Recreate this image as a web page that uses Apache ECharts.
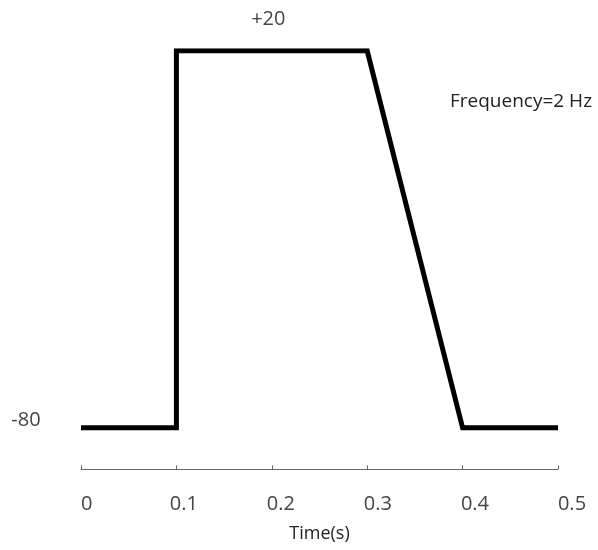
<!DOCTYPE html>
<html>
<head>
<meta charset="utf-8">
<script src="https://cdn.jsdelivr.net/npm/echarts@6/dist/echarts.min.js"></script>
<style>
  html, body { margin: 0; padding: 0; background: #fff; }
  #chart { width: 598px; height: 550px; }
</style>
</head>
<body>
<div id="chart"></div>
<script>
// Waveform breakpoints: time (s) and level
const times = [0, 0.1, 0.1, 0.3, 0.4, 0.5];
const levels = [-80, -80, 20, 20, -80, -80];
const xTicks = [0, 0.1, 0.2, 0.3, 0.4, 0.5];
const highLevel = 20;
const lowLevel = -80;
const frequencyHz = 2;

const chart = echarts.init(document.getElementById('chart'), null, { renderer: 'canvas' });

const fontFamily = '"Open Sans", "Liberation Sans", sans-serif';
const tickLabel = v => {
  const r = Math.round(v * 10) / 10;
  return xTicks.includes(r) ? String(r) : '';
};

chart.setOption({
  animation: false,
  grid: [
    // plotting area
    { left: 81, right: 40, top: 50.8, bottom: 80.7 },
    // slightly wider band that carries the tick labels
    { left: 86.7, right: 26, top: 50.8, bottom: 80.7 }
  ],
  xAxis: [{
    type: 'value',
    gridIndex: 0,
    min: 0,
    max: 0.5,
    interval: 0.1,
    name: 'Time(s)',
    nameLocation: 'middle',
    nameGap: 56,
    nameTextStyle: { color: '#222', fontSize: 18, fontFamily },
    axisLine: { show: true, onZero: false, lineStyle: { color: '#666', width: 1 } },
    axisTick: { show: true, inside: true, length: 4, lineStyle: { color: '#666' } },
    axisLabel: { show: false },
    splitLine: { show: false }
  }, {
    type: 'value',
    gridIndex: 1,
    min: 0,
    max: 0.5,
    interval: 0.1,
    axisLine: { show: false, onZero: false },
    axisTick: { show: false },
    axisLabel: { color: '#444', fontSize: 20, fontFamily, margin: 25, formatter: tickLabel },
    splitLine: { show: false }
  }],
  yAxis: [
    { type: 'value', gridIndex: 0, min: -91, max: 20, show: false },
    { type: 'value', gridIndex: 1, min: -91, max: 20, show: false }
  ],
  series: [{
    type: 'line',
    xAxisIndex: 0,
    yAxisIndex: 0,
    data: times.map((t, i) => [t, levels[i]]),
    symbol: 'none',
    lineStyle: { color: '#000', width: 5, join: 'miter' },
    markPoint: {
      symbol: 'circle',
      symbolSize: 0,
      label: { show: true, color: '#444', fontSize: 20, fontFamily },
      data: [
        { coord: [0.2, highLevel], label: { formatter: '+' + highLevel, offset: [-3.5, -32] } },
        { coord: [0, lowLevel], label: { formatter: String(lowLevel), offset: [-55, -7.5] } }
      ]
    }
  }],
  graphic: [{
    type: 'text',
    x: 450,
    y: 102,
    style: {
      text: 'Frequency=' + frequencyHz + ' Hz',
      fill: '#222',
      font: '19px ' + fontFamily,
      verticalAlign: 'middle'
    }
  }]
});
</script>
</body>
</html>
